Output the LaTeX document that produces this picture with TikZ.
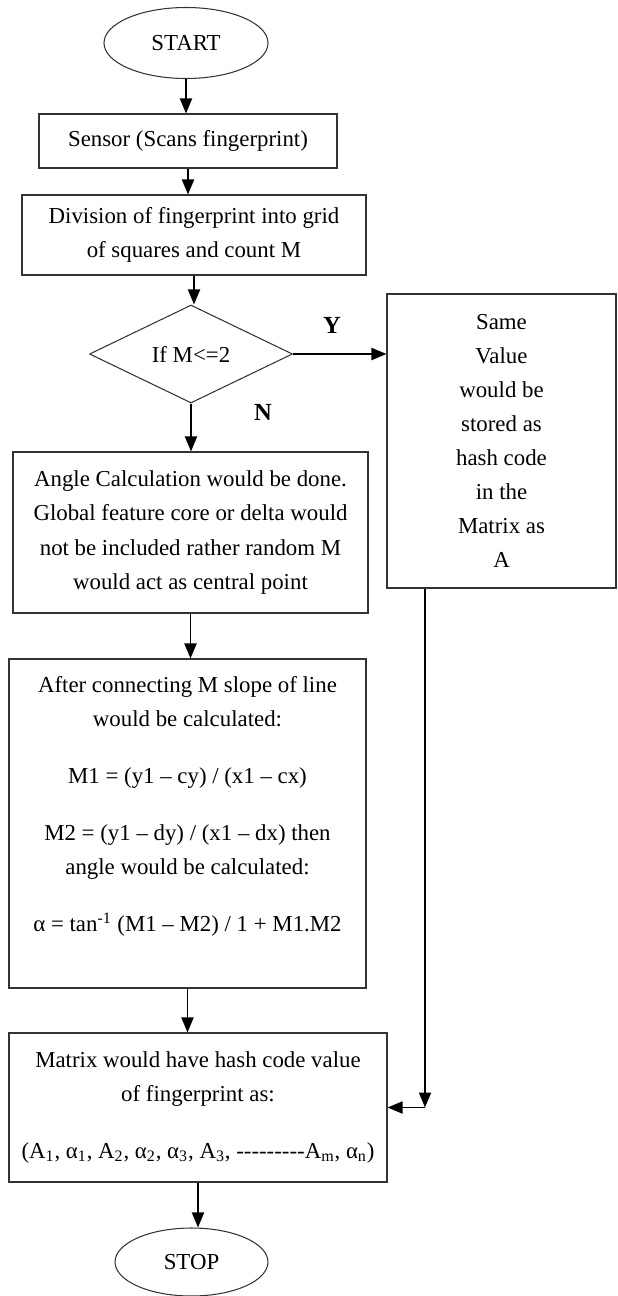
\documentclass[tikz,border=0pt]{standalone}
\usepackage{fontspec}
\setmainfont{Liberation Serif}
\usetikzlibrary{shapes.geometric,arrows.meta}
\newcommand{\hyphenrun}{-\kern0pt-\kern0pt-\kern0pt-\kern0pt-\kern0pt-\kern0pt-\kern0pt-\kern0pt-}
\begin{document}
\begin{tikzpicture}[every node/.style={font=\fontsize{13}{19.4}\selectfont},
  box/.style={draw=black!80, line width=0.6pt, rectangle, align=center, inner sep=0pt},
  term/.style={draw=black!80, line width=0.6pt, ellipse, inner sep=0pt},
  decide/.style={draw=black!80, line width=0.6pt, diamond, inner sep=0pt},
  flow/.style={line width=1.1pt, -{Triangle[length=0.3cm,width=0.24cm]}}]
  \useasboundingbox (0,0) rectangle (12.36,-25.92);
  \node[term, minimum width=3.28cm, minimum height=1.42cm] (start) at (3.72,-0.86) {START};
  \node[box, minimum width=5.96cm, minimum height=1.08cm] (sensor) at (3.76,-2.82) {Sensor (Scans fingerprint)};
  \node[box, minimum width=6.88cm, minimum height=1.6cm] (grid) at (3.88,-4.70) {Division of fingerprint into grid\\of squares and count M};
  \node[decide, minimum width=4.06cm, minimum height=1.96cm] (test) at (3.82,-7.08) {If M<=2};
  \node[box, minimum width=4.58cm, minimum height=5.88cm] (hash) at (10.03,-8.82) {Same\\Value\\would be\\stored as\\hash code\\in the\\Matrix as\\A};
  \node[box, minimum width=7.10cm, minimum height=3.22cm] (angle) at (3.81,-10.65) {Angle Calculation would be done.\\Global feature core or delta would\\not be included rather random M\\would act as central point};
  \node[box, minimum width=7.14cm, minimum height=6.58cm] (slope) at (3.75,-16.47) {After connecting M slope of line\\would be calculated:\\[13pt]
    M1 = (y1 -- cy) / (x1 -- cx)\\[13pt]
    M2 = (y1 -- dy) / (x1 -- dx) then\\angle would be calculated:\\[13pt]
    α = tan\textsuperscript{-1} (M1 -- M2) / 1 + M1.M2\\[0.1cm]~};
  \node[box, minimum width=7.56cm, minimum height=2.98cm] (matrix) at (3.96,-22.15) {Matrix would have hash code value\\of fingerprint as:\\[13pt]
    (A\textsubscript{1}, α\textsubscript{1}, A\textsubscript{2}, α\textsubscript{2}, α\textsubscript{3}, A\textsubscript{3}, \hyphenrun A\textsubscript{m}, α\textsubscript{n})};
  \node[term, minimum width=3.06cm, minimum height=1.36cm] (stop) at (3.83,-25.24) {STOP};
  \node[font=\fontsize{14}{16}\selectfont\bfseries] (yes) at (6.64,-6.5) {Y};
  \node[font=\fontsize{14}{16}\selectfont\bfseries] (no) at (5.26,-8.24) {N};
  % main flow
  \draw[flow] (start.south) -- (start.south |- sensor.north);
  \draw[flow] (sensor.south) -- (sensor.south |- grid.north);
  \draw[flow] (grid.south) -- (grid.south |- test.north);
  \draw[flow] (test.south) -- (test.south |- angle.north);
  \draw[flow] (angle.south) -- (angle.south |- slope.north);
  \draw[flow] (slope.south) -- (slope.south |- matrix.north);
  \draw[flow] (matrix.south) -- (matrix.south |- stop.north);
  % yes branch
  \draw[flow] (test.east) -- (test.east -| hash.west);
  \coordinate (drop) at ([xshift=-1.53cm]hash.south);
  \coordinate (bend) at (drop |- matrix.east);
  \draw[flow] (drop) -- (bend);
  \draw[flow] (bend) -- (matrix.east);
\end{tikzpicture}
\end{document}
